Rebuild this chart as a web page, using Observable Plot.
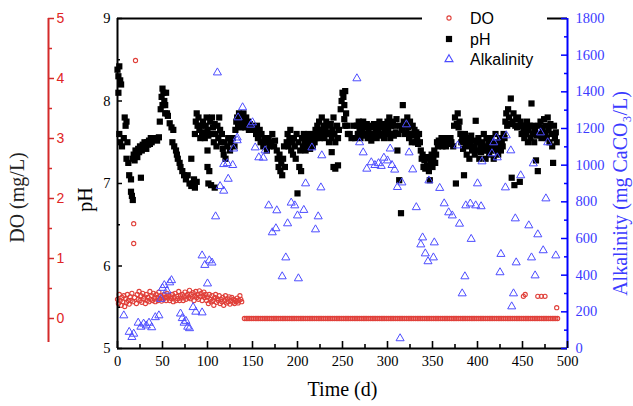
<!DOCTYPE html>
<html><head><meta charset="utf-8">
<script src="https://cdn.jsdelivr.net/npm/d3@7"></script>
<script src="https://cdn.jsdelivr.net/npm/@observablehq/plot@0.6"></script>
<style>body{margin:0;background:#fff}#chart svg{display:block}</style>
</head><body><div id="chart"></div>
<script>
// ---- tick values ----
const xTicks = [0,50,100,150,200,250,300,350,400,450,500];
const xMinor = [25,75,125,175,225,275,325,375,425,475];
const phTicks = [5,6,7,8,9];
const phMinor = [5.5,6.5,7.5,8.5];
const doTicks = [0,1,2,3,4,5];
const doMinor = [0.5,1.5,2.5,3.5,4.5];
const doAxisRange = [-0.4, 5];
const alkTicks = [0,200,400,600,800,1000,1200,1400,1600,1800];
const alkMinor = [100,300,500,700,900,1100,1300,1500,1700];

// ---- pH series [day, pH] ----
const phData = [
[0,8.38],[1,8.3],[2,8.42],[3,8.25],[1,8.1],[4,8.2],[2,7.6],[3,7.5],[5,7.45],[8,7.8],[9,7.7],[10,7.75],[7,7.55],[11,7.5],[10,7.3],[12,7.25],[13,7.1],[15,7.05],[15,6.9],[16,6.85],[17,6.8],
[17,7.3],[18,7.35],[19,7.28],[20,7.4],[21,7.35],[22,7.32],[23,7.42],[24,7.38],[25,7.45],[26,7.07],[27,7.4],[28,7.47],[29,7.43],[30,7.5],[31,7.45],[32,7.42],[33,7.5],[34,7.47],[35,7.52],[36,7.48],[37,7.55],[38,7.5],[40,7.53],[42,7.55],[44,7.52],[46,7.56],
[47,7.75],[48,7.9],[49,8.05],[50,8.15],[51,8.1],[52,8.0],[53,7.95],[54,8.1],[55,7.85],[53,7.85],[56,7.82],[50,7.95],
[58,7.73],[60,7.68],[62,7.65],[61,7.5],[63,7.45],[65,7.4],[66,7.35],[67,7.3],[69,7.25],[70,7.2],[72,7.15],[74,7.1],[76,7.05],[78,7.1],[80,7.0],[82,6.97],[84,7.0],[86,6.95],[88,7.02],[82,7.3],[85,7.05],
[86,7.6],[87,7.75],[88,7.85],[89,7.7],[90,7.8],[91,7.65],[92,7.55],[93,7.7],[94,7.6],[95,7.75],[96,7.62],[97,7.55],[98,7.7],[99,7.8],[100,7.65],[101,7.58],[100,7.4],[100,7.2],[101,7.0],
[103,7.75],[104,7.6],[105,7.8],[106,7.68],[107,7.5],[108,7.72],[109,7.6],[110,7.45],[111,7.7],[112,7.55],[113,7.8],[114,7.65],[115,7.5],[116,7.6],[117,7.42],[102,7.15],[104,6.98],[108,6.95],
[118,7.35],[119,7.5],[120,7.3],[122,7.45],[123,7.55],[125,7.4],[126,7.5],[128,7.55],[130,7.45],
[131,7.65],[132,7.75],[133,7.8],[134,7.7],[135,7.85],[136,7.75],[137,7.68],[138,7.8],[139,7.72],[140,7.85],[141,7.75],[142,7.68],[143,7.8],[144,7.7],[145,7.75],[146,7.65],[147,7.72],[148,7.68],[150,7.7],[152,7.65],
[154,7.6],[155,7.7],[156,7.55],[158,7.65],[159,7.5],[160,7.6],[162,7.45],[163,7.55],[165,7.5],[166,7.4],[168,7.55],[169,7.45],[171,7.5],[172,7.6],[174,7.45],[175,7.52],
[177,7.4],[178,7.3],[179,7.2],[180,7.35],[181,7.15],[182,7.25],[183,7.1],[184,7.3],[185,7.45],[186,7.2],
[188,7.5],[189,7.6],[190,7.45],[191,7.55],[192,7.65],[193,7.4],[194,7.5],[195,7.35],[196,7.55],[197,7.45],[198,7.3],[199,7.6],[200,6.88],[201,7.5],[202,7.2],[203,7.4],[204,7.15],[205,7.55],
[206,7.45],[207,7.6],[208,7.5],[209,7.4],[210,7.55],[211,7.45],[212,7.6],[213,7.5],[214,7.42],[215,7.55],[216,7.5],[217,7.45],
[218,7.6],[219,7.5],[220,7.65],[221,7.55],[222,7.7],[223,7.6],[224,7.75],[225,7.55],[226,7.65],[227,7.8],[228,7.6],[229,7.7],[230,7.55],[231,7.65],[232,7.75],[233,7.6],[234,7.7],[235,7.5],[236,7.62],[237,7.72],[238,7.55],[239,7.65],[240,7.8],[241,7.6],[242,7.5],[244,7.7],[245,7.55],[246,7.65],
[238,7.38],[240,7.2],[242,7.18],[245,7.22],
[248,7.9],[249,8.0],[250,8.1],[251,8.05],[252,7.95],[253,8.12],[254,7.85],[255,7.7],[256,7.6],[252,7.78],[253,7.7],
[258,7.6],[260,7.55],[262,7.7],[264,7.55],[266,7.7],[267,7.6],[268,7.75],[269,7.65],[270,7.55],[271,7.7],[272,7.62],[273,7.75],[274,7.58],[275,7.68],[276,7.6],[277,7.72],[278,7.55],[279,7.65],[280,7.7],[281,7.6],[282,7.52],[283,7.68],[284,7.58],[285,7.72],[286,7.6],[287,7.65],[288,7.55],[289,7.7],[290,7.62],[291,7.75],[292,7.58],[293,7.68],[294,7.6],[295,7.72],[296,7.55],[297,7.65],[298,7.7],[299,7.6],[300,7.75],
[301,7.65],[302,7.8],[303,7.55],[304,7.7],[305,7.6],[306,7.75],[307,7.58],[308,7.7],[309,7.62],[310,7.78],[311,7.4],[312,7.6],[313,7.04],[314,7.7],[315,6.64],[316,7.65],[317,7.95],[318,7.75],[319,7.6],
[320,7.7],[321,7.62],[322,7.8],[323,7.68],[324,7.55],[325,7.75],[326,7.6],[327,7.5],[328,7.7],[329,7.58],[330,7.65],[331,7.5],[332,7.62],[333,7.55],[334,7.48],[335,7.6],[336,7.5],
[337,7.4],[338,7.3],[339,7.35],[340,7.2],[341,7.28],[342,7.18],[343,7.32],[344,7.22],[345,7.3],[346,7.15],[347,7.04],[348,7.25],[349,7.35],[350,7.2],[351,7.3],[352,7.4],[353,7.25],[354,7.35],
[355,7.5],[356,7.45],[357,7.52],[358,7.48],[360,7.55],[361,7.45],[362,7.5],[364,7.55],[365,7.45],[367,7.52],[368,7.48],[370,7.55],[371,7.5],[373,7.45],
[374,7.7],[375,7.8],[376,7.0],[377,7.72],[378,7.85],[379,7.68],[380,7.75],
[381,7.6],[382,7.5],[383,7.55],[384,7.42],[385,7.1],[386,7.6],[387,7.48],[388,7.35],[389,7.55],[390,7.45],[391,7.3],[392,7.5],[393,7.58],[394,7.4],[395,7.52],[396,7.45],[397,7.35],[398,7.76],[399,7.5],[400,7.4],[401,7.55],[402,7.3],[403,7.45],[404,7.38],
[405,7.5],[406,7.4],[407,7.6],[408,7.45],[409,7.3],[410,7.55],[411,7.4],[412,7.5],[413,7.35],[414,7.45],[415,7.55],[416,7.4],[417,7.5],[418,7.3],[419,7.45],[420,7.6],[421,7.4],[422,7.5],[423,7.35],[424,7.45],[425,7.55],[426,7.4],[427,7.5],[428,7.45],[429,7.6],[430,7.55],
[431,7.75],[432,7.85],[433,7.7],[434,7.9],[435,7.8],[436,7.72],[437,8.03],[438,7.07],[439,7.75],[440,7.85],[441,6.98],[442,7.7],[443,7.78],[444,7.68],[445,7.8],[446,7.7],[447,7.02],
[448,7.75],[449,7.6],[450,7.7],[451,7.65],[452,7.55],[453,7.7],[454,7.6],[455,7.75],[456,7.5],[457,7.65],[458,7.7],[459,7.55],[460,7.97],[461,7.6],[462,7.7],[463,7.5],[464,7.65],[465,7.28],[466,7.58],[467,7.15],[468,7.7],[469,7.6],[470,7.75],[471,7.55],[472,7.68],[473,7.62],[474,7.78],[475,7.6],[476,7.7],[477,7.55],[478,7.8],[479,7.65],[480,7.5],[481,7.72],[482,7.6],[483,7.45],[484,7.25],[485,7.7],[486,7.55],[487,7.62],[488,7.5]
];

// ---- DO series [day, mg/L] ----
const doEarly = [
[0,0.32],[1,0.25],[2,0.4],[3,0.3],[4,0.22],[5,0.35],[6,0.28],[7,0.38],[8,0.2],[9,0.33],[10,0.27],[11,0.4],[12,0.3],[13,0.24],[14,0.36],[15,0.3],[16,0.42],[17,0.28],[19,0.35],[21,0.25],[22,0.4],[23,0.32],[24,0.45],[25,0.3],[26,0.38],[27,0.27],[28,0.42],[29,0.33],[30,0.36],[31,0.25],[32,0.4],[33,0.3],[34,0.35],[35,0.28],[36,0.45],[37,0.32],[38,0.38],[39,0.3],[40,0.42],[41,0.34],[42,0.28],[43,0.4],[44,0.35],[45,0.3],[46,0.44],[47,0.33],[48,0.38],[49,0.29],[50,0.36],[51,0.32],[52,0.4],[53,0.35],[54,0.3],[55,0.42],[56,0.34],[57,0.38],[58,0.3],[59,0.36],[60,0.33],[61,0.4],[62,0.28],[63,0.35],[64,0.42],[65,0.3],[66,0.37],[67,0.33],[68,0.45],[69,0.3],[70,0.38],[71,0.34],[72,0.4],[73,0.3],[74,0.36],[75,0.44],[76,0.32],[77,0.38],[78,0.4],[79,0.35],[80,0.47],[81,0.33],[82,0.4],[83,0.36],[84,0.43],[85,0.3],[86,0.38],[87,0.45],[88,0.35],[89,0.4],[90,0.32],[91,0.46],[92,0.37],[93,0.42],[94,0.3],[95,0.38],[96,0.44],[97,0.35],[98,0.4],[99,0.3],[100,0.36],[101,0.25],[102,0.4],[103,0.32],[104,0.28],[105,0.38],[106,0.3],[107,0.22],[108,0.35],[109,0.4],[110,0.27],[111,0.33],[112,0.3],[113,0.38],[114,0.25],[115,0.32],[116,0.28],[117,0.35],[118,0.22],[119,0.3],[120,0.38],[121,0.26],[122,0.33],[123,0.28],[124,0.36],[125,0.24],[126,0.3],[127,0.35],[128,0.27],[129,0.32],[130,0.25],[131,0.3],[132,0.28],[133,0.34],[134,0.26],[135,0.3],[136,0.38],[137,0.32],[138,0.28],
[18,1.58],[18,1.25],[20,4.3]
];
const doLateDays = [141,143,145,147,149,151,153,155,157,159,161,163,165,167,169,171,173,175,177,179,181,183,185,187,189,191,193,195,197,199,201,203,205,207,209,211,213,215,217,219,221,223,225,227,229,231,233,235,237,239,241,243,245,247,249,251,253,255,257,259,261,263,265,267,269,271,273,275,277,279,281,283,285,287,289,291,293,295,297,299,301,303,305,307,309,311,313,315,317,319,321,323,325,327,329,331,333,335,337,339,341,343,345,347,349,351,353,355,357,359,361,363,365,367,369,371,373,375,377,379,381,383,385,387,389,391,393,395,397,399,401,403,405,407,409,411,413,415,417,419,421,423,425,427,429,431,433,435,437,439,441,443,445,447,449,451,453,455,457,459,461,463,465,467,469,471,473,475,477,479,481,483,485,487,489];
const doLateLevel = 0;
const doLateHigh = [[451,0.37],[453,0.4],[467,0.37],[471,0.37],[475,0.37],[488,0.18]];

// ---- Alkalinity series [day, mg CaCO3/L] ----
const alkData = [
[7,180],[13,90],[16,62],[18,80],[23,140],[26,118],[29,135],[32,125],[35,140],[38,115],[42,170],[46,180],
[48,270],[50,330],[52,345],[55,315],[58,360],[60,372],
[70,190],[72,165],[74,140],[76,150],[78,118],[80,110],[84,225],[87,200],[94,196],
[94,507],[97,455],[102,480],[105,468],[100,354],
[109,720],[111,1505],[114,885],[118,860],[123,925],[118,1005],[122,1010],[128,1000],[129,1090],[133,1150],[133,1135],[134,1260],[139,1315],[148,1220],[150,1233],
[153,1096],[157,1042],[162,1040],[164,1080],
[168,780],[172,633],[176,655],[177,753],[189,682],[193,795],[197,780],[200,725],[207,755],[187,496],[183,393],[201,382],
[209,900],[216,1096],[227,1053],[226,878],[223,720],[220,649],
[266,1473],[269,1124],[273,1069],[277,980],[282,1015],[286,1000],[290,1010],[293,995],[296,1040],[300,1025],[303,1090],[305,1000],[308,975],
[321,1222],[324,1069],[328,976],[311,880],[316,905],[314,55],
[332,770],[346,916],[358,875],[363,791],[368,742],[372,725],[380,680],[378,1107],
[387,780],[392,790],[398,780],[404,775],[400,900],[393,597],
[339,605],[337,567],[352,578],[342,518],[351,496],[345,475],[386,393],[383,300],
[405,1020],[416,1064],[418,1124],[421,1150],[422,1042],[426,515],[425,415],
[432,1162],[437,1080],[431,878],[448,944],[442,709],[457,671],[467,622],[462,1009],[470,1178],[478,1124],[476,818],
[443,469],[460,496],[473,535],[487,507],[464,398],[440,300],[438,229]
];

// ---- shared-axis mapping (pH scale carries all three) ----
const doToPh = d => 5 + (d + 0.5) * 4 / 5.5;
const alkToPh = a => 5 + a * 4 / 1800;

const ph = phData.map(([d, v]) => ({d, v}));
const dox = doEarly.concat(doLateDays.map(d => [d, doLateLevel]), doLateHigh).map(([d, v]) => ({d, v}));
const alk = alkData.map(([d, v]) => ({d, v}));

const serif = "'Times New Roman','Liberation Serif',serif";
const sans = "Arial,'Liberation Sans',sans-serif";
const RED = "#d42a2a", BLUE = "#0000ff";
const DOC = "#e0403a", ALKC = "#4d4dff";

const chart = Plot.plot({
  width: 633, height: 406,
  marginLeft: 117, marginRight: 66, marginTop: 18, marginBottom: 58,
  x: {domain: [0, 500], axis: null},
  y: {domain: [5, 9], axis: null},
  style: {background: "#fff"},
  marks: [
    Plot.dot(ph, {x: "d", y: "v", symbol: "square", r: 3.5, fill: "#000", stroke: null}),
    Plot.dot(dox, {x: "d", y: d => doToPh(d.v), r: 2.1, fill: "none", stroke: DOC, strokeWidth: 1.1}),
    Plot.dot(alk, {x: "d", y: d => alkToPh(d.v), symbol: "triangle", r: 3, fill: "none", stroke: ALKC, strokeWidth: 1}),
    // frame
    Plot.ruleY([5], {stroke: "#000", strokeWidth: 2}),
    Plot.ruleY([9], {stroke: "#000", strokeWidth: 2}),
    Plot.ruleX([0], {stroke: "#000", strokeWidth: 2}),
    Plot.ruleX([500], {stroke: BLUE, strokeWidth: 2}),
    // x ticks (inward)
    Plot.ruleX(xTicks, {x: d => d, insetTop: 323, stroke: "#000", strokeWidth: 1.6}),
    Plot.ruleX(xMinor, {x: d => d, insetTop: 326, stroke: "#000", strokeWidth: 1.6}),
    Plot.text(xTicks, {x: d => d, text: d => String(d), frameAnchor: "bottom", dy: 17, fontFamily: serif, fontSize: 14.5, fill: "#000"}),
    // pH ticks
    Plot.ruleY(phTicks, {y: d => d, insetRight: 445, stroke: "#000", strokeWidth: 1.5}),
    Plot.ruleY(phMinor, {y: d => d, insetRight: 447, stroke: "#000", strokeWidth: 1.5}),
    Plot.text(phTicks, {y: d => d, text: d => String(d), frameAnchor: "left", dx: -7, textAnchor: "end", fontFamily: serif, fontSize: 14.5, fill: "#000"}),
    // DO axis (offset left)
    Plot.ruleX([0], {y1: () => doToPh(doAxisRange[0]), y2: () => doToPh(doAxisRange[1]), dx: -69, stroke: RED, strokeWidth: 2}),
    Plot.ruleY(doTicks, {y: d => doToPh(d), insetRight: 444, dx: -69, stroke: RED, strokeWidth: 1.5}),
    Plot.ruleY(doMinor, {y: d => doToPh(d), insetRight: 446, dx: -69, stroke: RED, strokeWidth: 1.5}),
    Plot.text(doTicks, {y: d => doToPh(d), text: d => String(d), frameAnchor: "left", dx: -61, textAnchor: "start", fontFamily: sans, fontSize: 14, fill: "#e02424"}),
    // Alkalinity axis (right)
    Plot.ruleY(alkTicks, {y: d => alkToPh(d), insetLeft: 444, stroke: BLUE, strokeWidth: 1.5}),
    Plot.ruleY(alkMinor, {y: d => alkToPh(d), insetLeft: 447, stroke: BLUE, strokeWidth: 1.5}),
    Plot.text(alkTicks, {y: d => alkToPh(d), text: d => String(d), frameAnchor: "right", dx: 8, textAnchor: "start", fontFamily: serif, fontSize: 14.5, fill: "#3b3bff"}),
    // titles
    Plot.text(["Time (d)"], {text: d => d, frameAnchor: "bottom", dy: 47, fontFamily: serif, fontSize: 20, fill: "#000"}),
    Plot.text(["pH"], {text: d => d, frameAnchor: "left", dx: -32, dy: 16, rotate: -90, textAnchor: "middle", fontFamily: serif, fontSize: 20, fill: "#000"}),
    Plot.text(["DO (mg/L)"], {text: d => d, frameAnchor: "left", dx: -100, dy: 14, rotate: -90, textAnchor: "middle", fontFamily: serif, fontSize: 20, fill: "#222"}),
    Plot.text(["Alkalinity (mg CaCO\u2083/L)"], {text: d => d, frameAnchor: "right", dx: 53, dy: 10, rotate: -90, textAnchor: "middle", fontFamily: serif, fontSize: 20, fill: "#3b3bff"})
  ]
});

// legend (inside, top-right, over the frame line)
const svg = d3.select(chart);
const lg = svg.append("g").attr("class", "legend").attr("text-anchor", "start");
lg.append("rect").attr("x", 422).attr("y", 8).attr("width", 125).attr("height", 62).attr("fill", "#fff");
const items = [
  {label: "DO", d: "M2.1,0A2.1,2.1,0,1,1,-2.1,0A2.1,2.1,0,1,1,2.1,0Z", fill: "none", stroke: DOC, y: 18},
  {label: "pH", d: "M-3.1,-3.1H3.1V3.1H-3.1Z", fill: "#000", stroke: "none", y: 39},
  {label: "Alkalinity", d: "M0,-4.3L4,2.6L-4,2.6Z", fill: "none", stroke: ALKC, y: 59}
];
for (const it of items) {
  lg.append("path").attr("d", it.d).attr("transform", `translate(449,${it.y})`)
    .attr("fill", it.fill).attr("stroke", it.stroke).attr("stroke-width", 1.1);
  lg.append("text").attr("x", 470).attr("y", it.y).attr("dy", "0.35em").attr("text-anchor", "start")
    .attr("font-family", sans).attr("font-size", 16).attr("fill", "#000").text(it.label);
}
document.getElementById("chart").append(chart);
</script></body></html>
